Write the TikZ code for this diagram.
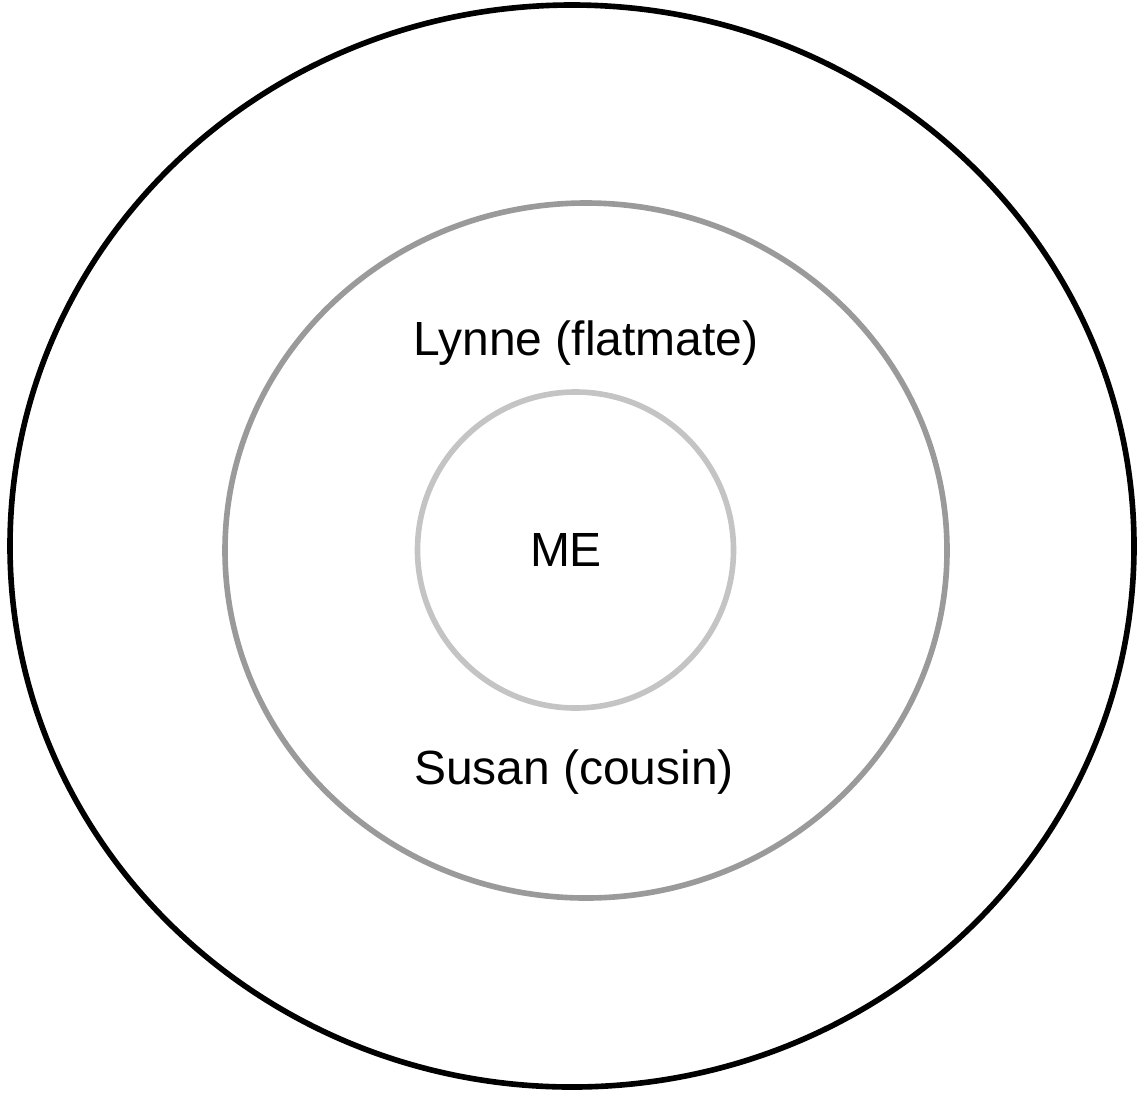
\documentclass[tikz,border=0pt]{standalone}
\usepackage{fontspec}
\setmainfont{Liberation Sans}
\definecolor{ringouter}{HTML}{000000}
\definecolor{ringmid}{HTML}{9A9A9A}
\definecolor{ringinner}{HTML}{C4C4C4}
\tikzset{
  ring/.style={line width=3.2pt},
  person/.style={font=\fontsize{27.3}{32}\selectfont, inner sep=0pt},
}
\begin{document}
\begin{tikzpicture}
    \useasboundingbox (0,0) rectangle (22.9,-21.9);
    % circles of closeness
    \draw[ring, ringouter] (11.44,-10.92) ellipse (11.24 and 10.82);
    \draw[ring, ringmid] (11.72,-11.01) ellipse (7.22 and 6.95);
    \draw[ring, ringinner] (11.51,-11.0) circle (3.16);
    % people
    \node[person] (me) at (11.32,-11.0) {ME};
    \node[person] (lynne) at (11.72,-6.86) {Lynne (flatmate)};
    \node[person] (susan) at (11.48,-15.44) {Susan (cousin)};
  \end{tikzpicture}
\end{document}
